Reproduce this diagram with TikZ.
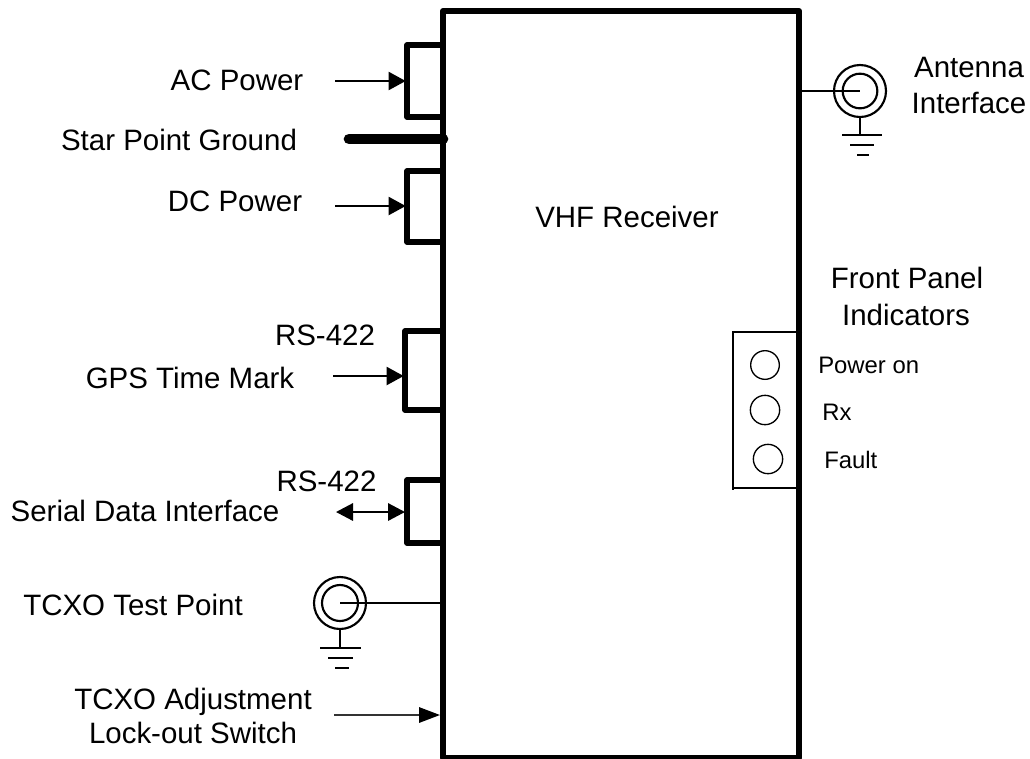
\documentclass[tikz,border=0pt]{standalone}
\usepackage{fontspec}
\setmainfont{Liberation Sans}
\usetikzlibrary{arrows.meta}
\tikzset{
  px/.style={x=0.75pt,y=-0.75pt},
  big/.style={font=\fontsize{22.1pt}{24pt}\selectfont,inner sep=0pt,anchor=base},
  small/.style={font=\fontsize{17.9pt}{20pt}\selectfont,inner sep=0pt,anchor=base west},
  heavy/.style={line width=4.5pt,line join=round},
  port/.style={line width=4pt,line join=round},
  thinline/.style={line width=1.3pt},
  sig/.style={line width=1.6pt,-{Triangle[length=12.75pt,width=13.5pt]},shorten >=-0.5pt},
  sigb/.style={line width=1.6pt,{Triangle[length=12.75pt,width=13pt]}-{Triangle[length=12.75pt,width=13pt]}},
  siglong/.style={line width=1.6pt,black!80,-{Triangle[length=15.75pt,width=11.5pt,black]}},
  ring/.style={circle,draw,line width=1.6pt,inner sep=0pt,fill=none},
  led/.style={circle,draw,line width=1pt,inner sep=0pt},
  gnd/.style={line width=1.5pt},
}
\begin{document}
\begin{tikzpicture}[px]
\useasboundingbox (0,0) rectangle (1030,758);
% main box
\node[draw,heavy,rectangle,inner sep=0pt,minimum width=267pt,minimum height=560pt] (rx) at (621,384.3) {};
\node[big] (vhf) at (627,227) {VHF Receiver};
% left-hand labels
\node[big] (ac) at (237,90) {AC Power};
\node[big] (star) at (179,150) {Star Point Ground};
\node[big] (dc) at (235,211) {DC Power};
\node[big] (rs1) at (325,345) {RS-422};
\node[big] (gps) at (190,388) {GPS Time Mark};
\node[big] (rs2) at (326.5,491) {RS-422};
\node[big] (ser) at (145,521) {Serial Data Interface};
\node[big] (tpl) at (133,615) {TCXO Test Point};
\node[big] (adj) at (193,709) {TCXO Adjustment};
\node[big] (lock) at (193,743) {Lock-out Switch};
% right-hand labels
\node[big] (ant) at (969,77) {Antenna};
\node[big] (ifc) at (969,113) {Interface};
\node[big] (fp) at (907,288) {Front Panel};
\node[big] (ind) at (906,325) {Indicators};
\node[small] (pon) at (818,373) {Power on};
\node[small] (rxl) at (822,420) {Rx};
\node[small] (fl) at (824,468) {Fault};
% ports
\coordinate (p1a) at (rx.west |- 0,45);
\coordinate (p1b) at (407,45);
\coordinate (p1c) at (407,117);
\coordinate (p1d) at (rx.west |- 0,117);
\draw[port] (p1a) -- (p1b) -- (p1c) -- (p1d);
\coordinate (p2a) at (rx.west |- 0,171);
\coordinate (p2b) at (407,171);
\coordinate (p2c) at (407,242);
\coordinate (p2d) at (rx.west |- 0,242);
\draw[port] (p2a) -- (p2b) -- (p2c) -- (p2d);
\coordinate (p3a) at (rx.west |- 0,331);
\coordinate (p3b) at (405,331);
\coordinate (p3c) at (405,410);
\coordinate (p3d) at (rx.west |- 0,410);
\draw[port] (p3a) -- (p3b) -- (p3c) -- (p3d);
\coordinate (p4a) at (rx.west |- 0,480);
\coordinate (p4b) at (407,480);
\coordinate (p4c) at (407,543);
\coordinate (p4d) at (rx.west |- 0,543);
\draw[port] (p4a) -- (p4b) -- (p4c) -- (p4d);
% signal arrows
\coordinate (a1) at (335,81);
\coordinate (a1e) at (405,81);
\draw[sig] (a1) -- (a1e);
\coordinate (a2) at (335,206);
\coordinate (a2e) at (405,206);
\draw[sig] (a2) -- (a2e);
\coordinate (a3) at (333,376);
\coordinate (a3e) at (403,376);
\draw[sig] (a3) -- (a3e);
\coordinate (a4) at (336,512);
\coordinate (a4e) at (405,512);
\draw[sigb] (a4) -- (a4e);
\coordinate (a5) at (334,715);
\coordinate (a5e) at (440,715);
\draw[siglong] (a5) -- (a5e);
% star point ground
\coordinate (g1) at (349,139);
\coordinate (g1e) at (443,139);
\draw[line width=8pt,line cap=round] (g1) -- (g1e);
% antenna connector
\node[ring,minimum size=39pt] (antO) at (860,91) {};
\node[ring,minimum size=26pt] (antI) at (860,91) {};
\draw[thinline] (rx.east |- antI.center) -- (antI.center);
\coordinate (antG) at (860,135);
\coordinate (antG1) at (842,135);
\coordinate (antG2) at (882,135);
\coordinate (antG3) at (850,145);
\coordinate (antG4) at (874,145);
\coordinate (antG5) at (857,155);
\coordinate (antG6) at (869,155);
\draw[gnd] (antO.south) -- (antG);
\draw[gnd] (antG1) -- (antG2);
\draw[gnd] (antG3) -- (antG4);
\draw[gnd] (antG5) -- (antG6);
% TCXO test point
\node[ring,minimum size=39pt] (tpO) at (340,603) {};
\node[ring,minimum size=27pt] (tpI) at (340,603) {};
\draw[line width=1pt] (tpI.center) -- (rx.west |- tpI.center);
\coordinate (tpG) at (340,648);
\coordinate (tpG1) at (320,648);
\coordinate (tpG2) at (361,648);
\coordinate (tpG3) at (328,658);
\coordinate (tpG4) at (353,658);
\coordinate (tpG5) at (335,668);
\coordinate (tpG6) at (349,668);
\draw[gnd] (tpO.south) -- (tpG);
\draw[gnd] (tpG1) -- (tpG2);
\draw[gnd] (tpG3) -- (tpG4);
\draw[gnd] (tpG5) -- (tpG6);
% front panel
\coordinate (fpa) at (rx.east |- 0,332);
\coordinate (fpb) at (733,332);
\coordinate (fpc) at (733,490);
\coordinate (fpd) at (733,488);
\coordinate (fpe) at (rx.east |- 0,488);
\draw[line width=0.9pt] (fpa) -- (fpb) -- (fpc);
\draw[line width=0.9pt] (fpd) -- (fpe);
\node[led,minimum size=21.5pt] (l1) at (765,365) {};
\node[led,minimum size=22pt] (l2) at (765,410) {};
\node[led,minimum size=22pt] (l3) at (768,459) {};
\end{tikzpicture}
\end{document}
